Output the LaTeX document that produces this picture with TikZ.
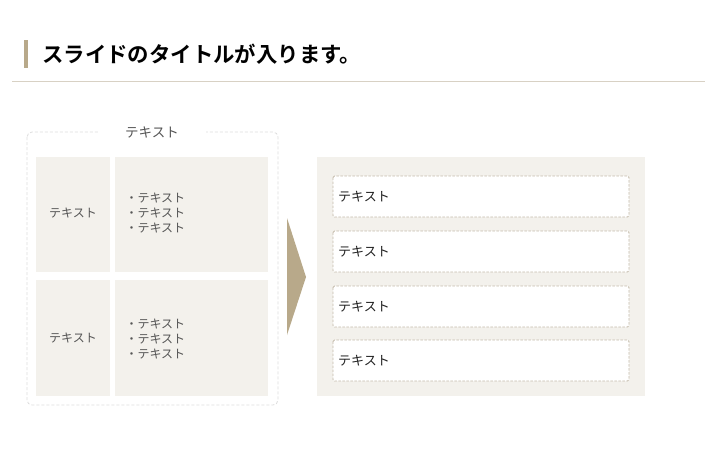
\documentclass[tikz,border=0pt]{standalone}
\usepackage{fontspec}
\newfontfamily\jp{Noto Sans CJK JP}
\newfontfamily\jpb{Noto Sans CJK JP Bold}
\definecolor{accent}{HTML}{B8A98A}
\definecolor{rule}{HTML}{D8D1C4}
\definecolor{cellbg}{HTML}{F3F1EC}
\definecolor{dashgray}{HTML}{DDDDDD}
\definecolor{dashtan}{HTML}{C4BBAB}
\definecolor{txtgray}{HTML}{555555}
\definecolor{txtdark}{HTML}{222222}
\begin{document}
\begin{tikzpicture}[x=1pt,y=-1pt,
  cell/.style={fill=cellbg,draw=none},
  celltext/.style={font=\jp\fontsize{12}{15}\selectfont,text=txtgray,align=left},
  itembox/.style={fill=white,draw=dashtan,dash pattern=on 2.5pt off 1.5pt,line width=0.8pt,rounded corners=1.5pt},
  itemtext/.style={font=\jp\fontsize{13}{15}\selectfont,text=txtdark,anchor=west,inner sep=0pt}]
\useasboundingbox (0,0) rectangle (720,450);
\fill[white] (0,0) rectangle (720,450);
% title
\fill[accent] (24,40) rectangle (28,68);
\node[anchor=west,inner sep=0pt,font=\jpb\fontsize{21.4}{24}\selectfont,text=black] (title) at (42,54) {スライドのタイトルが入ります。};
\draw[rule,line width=1pt] (12,81) -- (705,81);
% left group
\draw[dashgray,line width=0.8pt,dash pattern=on 3pt off 2pt,rounded corners=5pt] (27,132) rectangle (278,405);
\node[fill=white,inner xsep=27pt,inner ysep=2pt,font=\jp\fontsize{13.5}{15}\selectfont,text=txtgray] (grp) at (152,132) {テキスト};
\path[cell] (36,157) rectangle (110,272);
\path[cell] (115,157) rectangle (268,272);
\path[cell] (36,280) rectangle (110,396);
\path[cell] (115,280) rectangle (268,396);
\node[celltext] (l1) at (73,213) {テキスト};
\node[celltext] (l2) at (73,338) {テキスト};
\node[celltext,anchor=west] (r1) at (122,213) {・テキスト\\・テキスト\\・テキスト};
\node[celltext,anchor=west] (r2) at (122,339) {・テキスト\\・テキスト\\・テキスト};
% arrow
\fill[accent] (287,218) -- (306,277) -- (287,335) -- cycle;
% right panel
\path[cell] (317,157) rectangle (645,396);
\foreach \i/\t in {1/176,2/231,3/286,4/340}{
  \draw[itembox] (333,\t) rectangle (629,\t+41);
  \node[itemtext] (it\i) at (338,\t+20.5) {テキスト};
}
\end{tikzpicture}
\end{document}
